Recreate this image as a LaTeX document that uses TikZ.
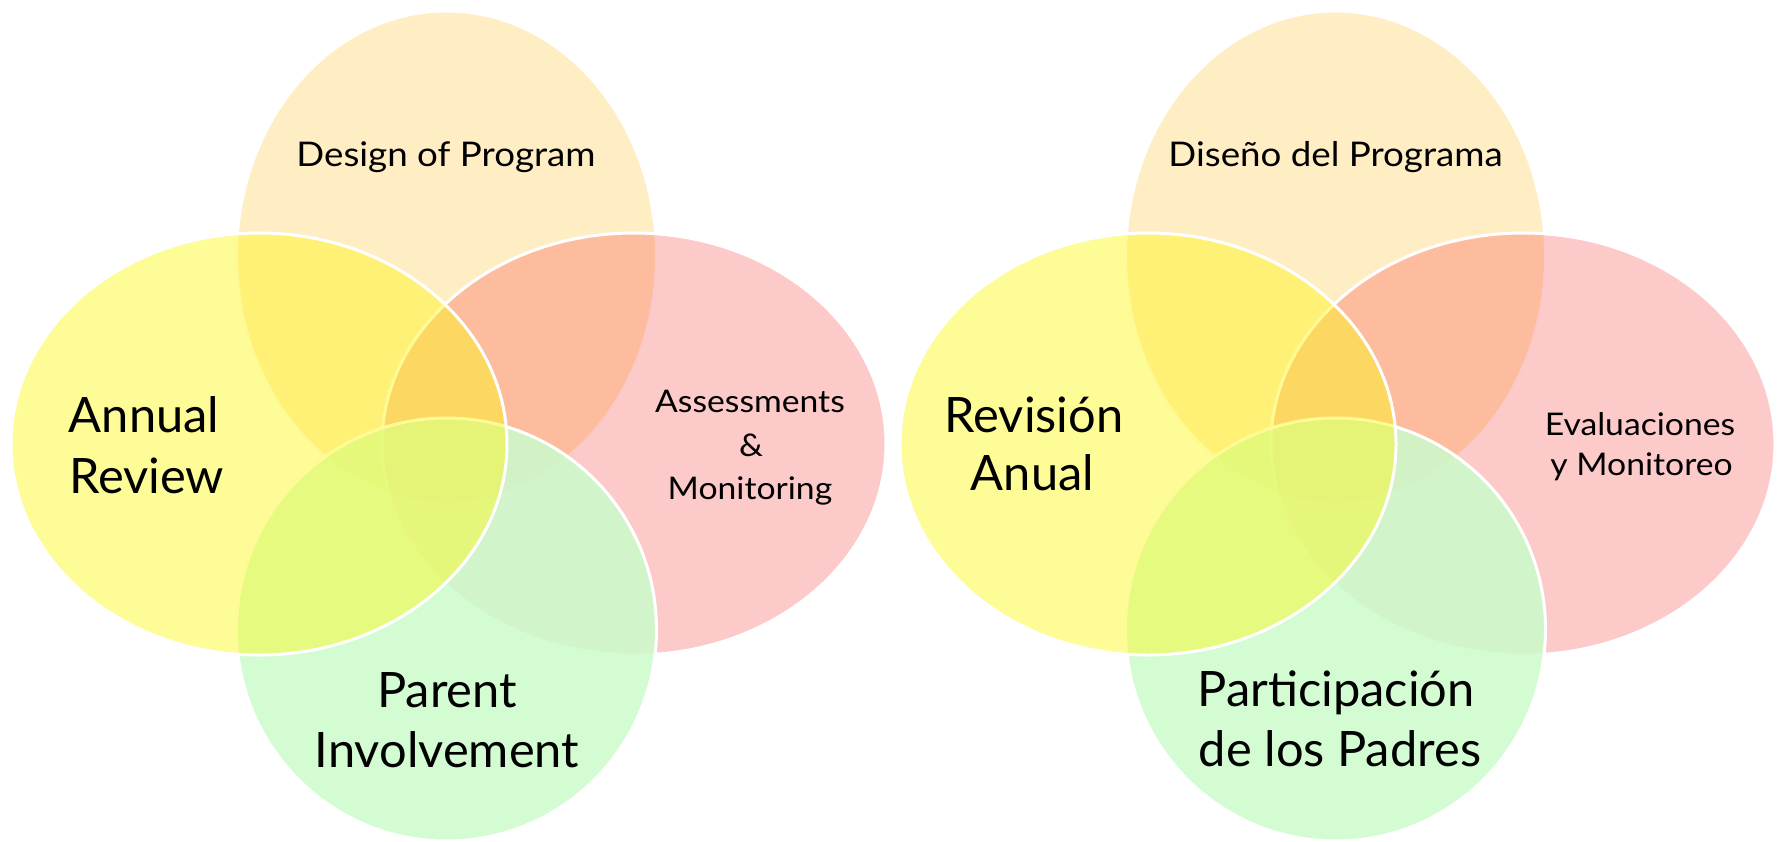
\documentclass[tikz,border=0pt]{standalone}
\usepackage{fontspec}
\setmainfont{Lato}
\newfontfamily\widelato[FakeStretch=1.08]{Lato}
\definecolor{topc}{HTML}{FFEDC4}
\definecolor{rightc}{HTML}{F72B2B}
\definecolor{botc}{HTML}{CCFCCC}
\definecolor{leftc}{HTML}{FDF819}
\tikzset{
  vennline/.style={draw=white, draw opacity=1, line width=1.5pt},
  topE/.style={vennline, fill=topc},
  rightE/.style={vennline, fill=rightc, fill opacity=0.25},
  botE/.style={vennline, fill=botc, fill opacity=0.86},
  leftE/.style={vennline, fill=leftc, fill opacity=0.45},
  lbl/.style={anchor=base, inner sep=0pt, text=black},
}
\newcommand\fbig{\fontsize{24.4}{29}\selectfont}
\newcommand\fmid{\widelato\fontsize{17}{20}\selectfont}
\newcommand\fsml{\widelato\fontsize{15.6}{18}\selectfont}
\newcommand\vennshapes{%
  \path[topE]   (446.5,256.5) ellipse [x radius=105pt, y radius=122.75pt];
  \path[rightE] (634,444)     ellipse [x radius=126pt, y radius=105.5pt];
  \path[botE]   (446.5,629.5) ellipse [x radius=105pt, y radius=105.75pt];
  \path[leftE]  (259,444)     ellipse [x radius=124pt, y radius=105.5pt];
}
\begin{document}
\begin{tikzpicture}[x=0.5pt,y=-0.5pt]
\useasboundingbox (0,0) rectangle (1777,841);
% left diagram
\vennshapes
\node[lbl, font=\fmid] (design) at (446,166) {Design of Program};
\node[lbl, font=\fbig] (annual) at (144,432) {Annual};
\node[lbl, font=\fbig] (review) at (146.5,493) {Review};
\node[lbl, font=\fsml] (assess) at (750,412.7) {Assessments};
\node[lbl, font=\fsml] (amp) at (751,456) {\&};
\node[lbl, font=\fsml] (monit) at (750,499) {Monitoring};
\node[lbl, font=\fbig] (parent) at (447,707) {Parent};
\node[lbl, font=\fbig] (involve) at (447,767) {Involvement};
% right diagram
\begin{scope}[xshift=444.5pt]
\vennshapes
\end{scope}
\node[lbl, font=\fmid] (diseno) at (1335.6,166) {Diseño del Programa};
\node[lbl, font=\fbig] (revision) at (1034,432.7) {Revisión};
\node[lbl, font=\fbig] (anual) at (1032.5,490) {Anual};
\node[lbl, font=\fsml] (evalu) at (1640,435.7) {Evaluaciones};
\node[lbl, font=\fsml] (ymonit) at (1641.5,475) {y Monitoreo};
\node[lbl, font=\fbig] (particip) at (1336,706.7) {Participación};
\node[lbl, font=\fbig] (padres) at (1340,766.7) {de los Padres};
\end{tikzpicture}
\end{document}
